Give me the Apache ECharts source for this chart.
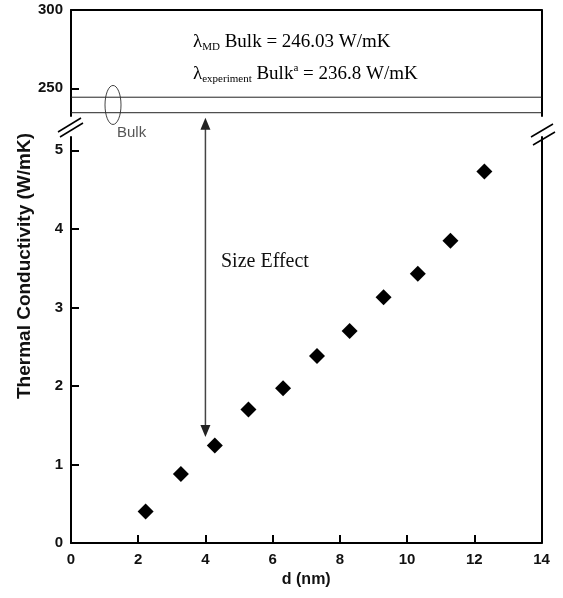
<!DOCTYPE html>
<html>
<head>
<meta charset="utf-8">
<script src="https://cdn.jsdelivr.net/npm/echarts@6/dist/echarts.min.js"></script>
<style>
html, body { margin: 0; padding: 0; background: #fff; }
#chart { width: 563px; height: 598px; }
</style>
</head>
<body>
<div id="chart"></div>
<script>
// film thickness d (nm) and thermal conductivity (W/mK)
var dValues = [2.22, 3.27, 4.28, 5.28, 6.31, 7.32, 8.29, 9.30, 10.32, 11.29, 12.30];
var kValues = [0.40, 0.88, 1.24, 1.70, 1.97, 2.38, 2.70, 3.13, 3.43, 3.85, 4.73];
var lowTicks = [0, 1, 2, 3, 4, 5];
var highTicks = [250, 300];
// the two bulk lines as drawn in the upper panel
var bulkLevels = [244.3, 234.4];
var arrowX = 4;
var arrowBottom = 1.35;

var axisFont = { fontFamily: 'Liberation Sans', fontWeight: 'bold', fontSize: 15, color: '#111' };

var myChart = echarts.init(document.getElementById('chart'));

var bulkSeries = bulkLevels.map(function (v) {
  return {
    type: 'line',
    xAxisIndex: 0,
    yAxisIndex: 0,
    data: [[0, v], [14, v]],
    symbol: 'none',
    silent: true,
    lineStyle: { color: '#222', width: 1 }
  };
});

var option = {
  animation: false,
  backgroundColor: '#fff',
  grid: [
    { left: 71, right: 21.5, top: 10, height: 106 },
    { left: 71, right: 21.5, top: 137, bottom: 55 }
  ],
  xAxis: [
    {
      gridIndex: 0, type: 'value', position: 'top', min: 0, max: 14,
      axisLine: { show: true, onZero: false, lineStyle: { color: '#000', width: 2 } },
      axisTick: { show: false }, axisLabel: { show: false }, splitLine: { show: false }
    },
    {
      gridIndex: 1, type: 'value', min: 0, max: 14, interval: 2,
      axisLine: { show: true, onZero: false, lineStyle: { color: '#000', width: 2 } },
      axisTick: { inside: true, length: 8, lineStyle: { color: '#000', width: 2 } },
      axisLabel: Object.assign({ margin: 9 }, axisFont),
      splitLine: { show: false },
      name: 'd (nm)', nameLocation: 'middle', nameGap: 29,
      nameTextStyle: { fontFamily: 'Liberation Sans', fontWeight: 'bold', fontSize: 16, color: '#111' }
    }
  ],
  yAxis: [
    {
      gridIndex: 0, type: 'value', min: 232.3, max: 300,
      axisLine: { show: true, onZero: false, lineStyle: { color: '#000', width: 2 } },
      axisTick: { inside: true, length: 8, customValues: highTicks, lineStyle: { color: '#000', width: 2 } },
      axisLabel: Object.assign({ margin: 8, customValues: highTicks }, axisFont),
      splitLine: { show: false }
    },
    {
      gridIndex: 0, type: 'value', position: 'right', min: 232.3, max: 300,
      axisLine: { show: true, onZero: false, lineStyle: { color: '#000', width: 2 } },
      axisTick: { show: false }, axisLabel: { show: false }, splitLine: { show: false }
    },
    {
      gridIndex: 1, type: 'value', min: 0, max: 5.17,
      axisLine: { show: true, onZero: false, lineStyle: { color: '#000', width: 2 } },
      axisTick: { inside: true, length: 8, customValues: lowTicks, lineStyle: { color: '#000', width: 2 } },
      axisLabel: Object.assign({ margin: 8, customValues: lowTicks }, axisFont),
      splitLine: { show: false },
      name: 'Thermal Conductivity (W/mK)', nameLocation: 'middle', nameGap: 37,
      nameTextStyle: { fontFamily: 'Liberation Sans', fontWeight: 'bold', fontSize: 19, color: '#111', padding: [0, 0, 0, 148] }
    },
    {
      gridIndex: 1, type: 'value', position: 'right', min: 0, max: 5.17,
      axisLine: { show: true, onZero: false, lineStyle: { color: '#000', width: 2 } },
      axisTick: { show: false }, axisLabel: { show: false }, splitLine: { show: false }
    }
  ],
  series: bulkSeries.concat([
    {
      type: 'scatter',
      xAxisIndex: 1,
      yAxisIndex: 2,
      symbol: 'diamond',
      symbolSize: 16,
      itemStyle: { color: '#000', opacity: 1 },
      data: dValues.map(function (d, i) { return [d, kValues[i]]; })
    }
  ])
};
myChart.setOption(option);

// annotations placed from the axes
var ell = myChart.convertToPixel({ xAxisIndex: 0, yAxisIndex: 0 }, [1.25, (bulkLevels[0] + bulkLevels[1]) / 2]);
var arrTop = myChart.convertToPixel({ xAxisIndex: 0, yAxisIndex: 0 }, [arrowX, bulkLevels[1]]);
var arrBot = myChart.convertToPixel({ xAxisIndex: 1, yAxisIndex: 2 }, [arrowX, arrowBottom]);
var ax = arrBot[0], topY = arrTop[1] + 5, botY = arrBot[1];

var serif = 'Liberation Serif';
var rich = {
  n: { fontFamily: serif, fontSize: 19, lineHeight: 22, color: '#111' },
  s: { fontFamily: serif, fontSize: 11, lineHeight: 12, verticalAlign: 'bottom', color: '#111' },
  p: { fontFamily: serif, fontSize: 11, lineHeight: 12, verticalAlign: 'top', color: '#111' }
};
var slash = { stroke: '#000', lineWidth: 1.5 };

myChart.setOption({
  graphic: [
    { type: 'ellipse', shape: { cx: ell[0], cy: ell[1], rx: 8, ry: 19.5 }, style: { fill: null, stroke: '#444', lineWidth: 1 } },
    { type: 'text', x: 117, y: 133, style: { text: 'Bulk', fontFamily: 'Liberation Sans', fontSize: 15, fill: '#555', verticalAlign: 'middle' } },
    { type: 'line', shape: { x1: ax, y1: topY + 10, x2: ax, y2: botY - 10 }, style: { stroke: '#444', lineWidth: 1.5 } },
    { type: 'polygon', shape: { points: [[ax, topY], [ax - 5, topY + 12], [ax + 5, topY + 12]] }, style: { fill: '#222' } },
    { type: 'polygon', shape: { points: [[ax, botY], [ax - 5, botY - 12], [ax + 5, botY - 12]] }, style: { fill: '#222' } },
    { type: 'text', x: 221, y: 262, style: { text: 'Size Effect', fontFamily: serif, fontSize: 20, fill: '#111', verticalAlign: 'middle' } },
    { type: 'text', x: 193, y: 42, style: { text: '{n|λ}{s|MD}{n| Bulk = 246.03 W/mK}', rich: rich, verticalAlign: 'middle' } },
    { type: 'text', x: 193, y: 74, style: { text: '{n|λ}{s|experiment}{n| Bulk}{p|a}{n| = 236.8 W/mK}', rich: rich, verticalAlign: 'middle' } },
    { type: 'line', shape: { x1: 58, y1: 132, x2: 81, y2: 118 }, style: slash },
    { type: 'line', shape: { x1: 60, y1: 137, x2: 83, y2: 123 }, style: slash },
    { type: 'line', shape: { x1: 531, y1: 137, x2: 553, y2: 124 }, style: slash },
    { type: 'line', shape: { x1: 533, y1: 145, x2: 555, y2: 132 }, style: slash }
  ]
});
</script>
</body>
</html>
